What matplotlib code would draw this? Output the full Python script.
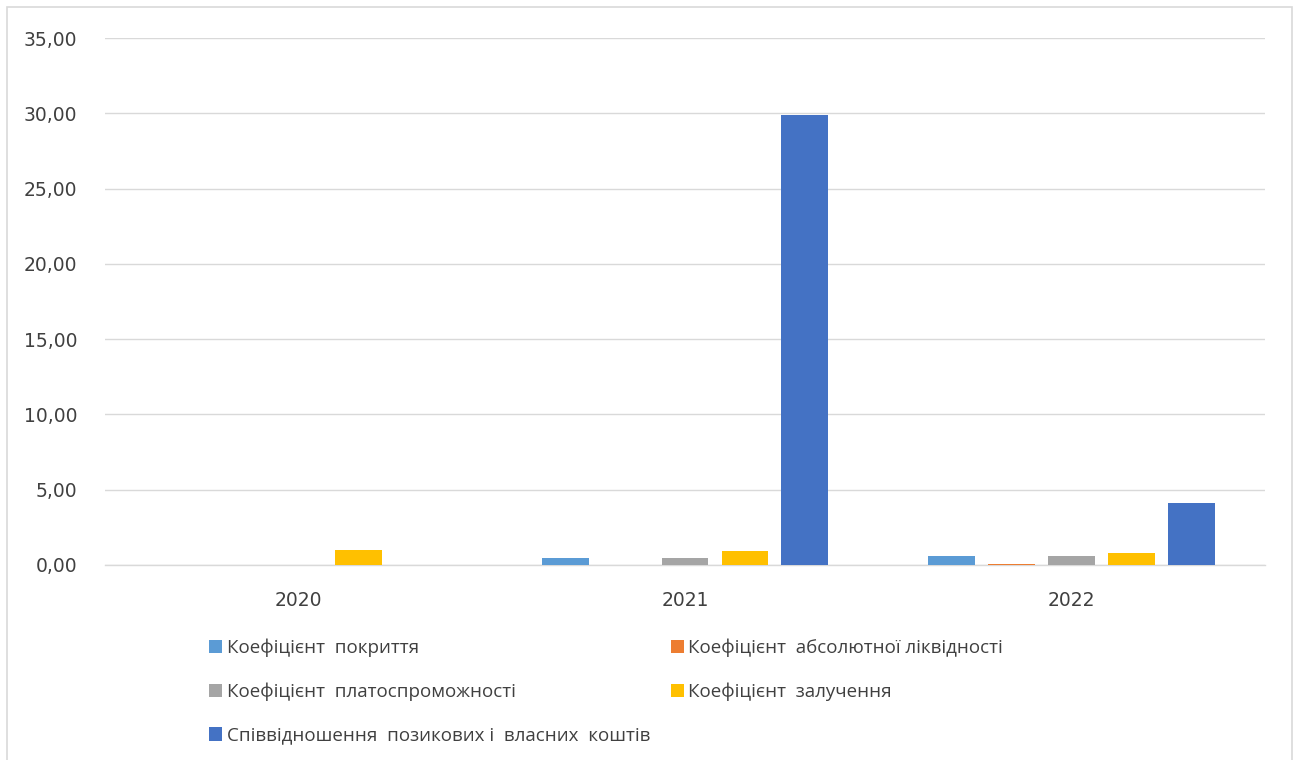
import matplotlib
matplotlib.use("Agg")
import matplotlib.pyplot as plt
import numpy as np
from matplotlib.patches import Rectangle, Patch

years = ["2020", "2021", "2022"]
series_names = [
    "Коефіцієнт  покриття",
    "Коефіцієнт  абсолютної ліквідності",
    "Коефіцієнт  платоспроможності",
    "Коефіцієнт  залучення",
    "Співвідношення  позикових і  власних  коштів",
]
pokryttya = [0.00, 0.47, 0.58]
absolyutna = [0.00, 0.00, 0.04]
platosprom = [0.00, 0.47, 0.58]
zaluchennya = [0.99, 0.92, 0.77]
spivvidnoshennya = [0.00, 29.90, 4.10]
values = [pokryttya, absolyutna, platosprom, zaluchennya, spivvidnoshennya]
colors = ["#5B9BD5", "#ED7D31", "#A5A5A5", "#FFC000", "#4472C4"]
yticks = [0, 5, 10, 15, 20, 25, 30, 35]

fig = plt.figure(figsize=(12.95, 7.6), dpi=100)
ax = fig.add_axes([105 / 1295, 1 - 565 / 760, 1160 / 1295, 527 / 760])

x = np.arange(len(years))
step = 0.155
width = 0.121
handles = []
for i, (vals, c, name) in enumerate(zip(values, colors, series_names)):
    ax.bar(x + (i - 2) * step, vals, width=width, color=c, zorder=3)
    handles.append(Patch(facecolor=c, edgecolor="none", label=name))

ax.set_xlim(-0.5, 2.5)
ax.set_ylim(0, 35)
ax.set_yticks(yticks)
ax.set_yticklabels([f"{v:.2f}".replace(".", ",") for v in yticks])
ax.set_xticks(x)
ax.set_xticklabels(years)
ax.grid(axis="y", color="#d9d9d9", linewidth=1, zorder=0)
for s in ["top", "right", "left"]:
    ax.spines[s].set_visible(False)
ax.spines["bottom"].set_color("#d9d9d9")
ax.spines["bottom"].set_linewidth(1)
ax.tick_params(axis="both", length=0, labelsize=13.5, colors="#404040")
ax.tick_params(axis="y", pad=20)
ax.tick_params(axis="x", pad=19)

order = [0, 2, 4, 1, 3]
leg = fig.legend([handles[i] for i in order], [series_names[i] for i in order],
                 ncol=2, loc="upper left", bbox_to_anchor=(192 / 1295, 1 - 622 / 760),
                 frameon=False, handlelength=0.7, handleheight=0.7,
                 handletextpad=0.25, labelspacing=1.35, columnspacing=1.1,
                 prop={"family": ["Open Sans", "DejaVu Sans"], "size": 13.5})
for t in leg.get_texts():
    t.set_color("#404040")

fig.patches.append(Rectangle((7 / 1295, -0.01), (1292 - 7) / 1295, 1 - 7 / 760 + 0.01,
                             transform=fig.transFigure, fill=False,
                             edgecolor="#d9d9d9", linewidth=1.2))

fig.savefig("out.png", dpi=100)
